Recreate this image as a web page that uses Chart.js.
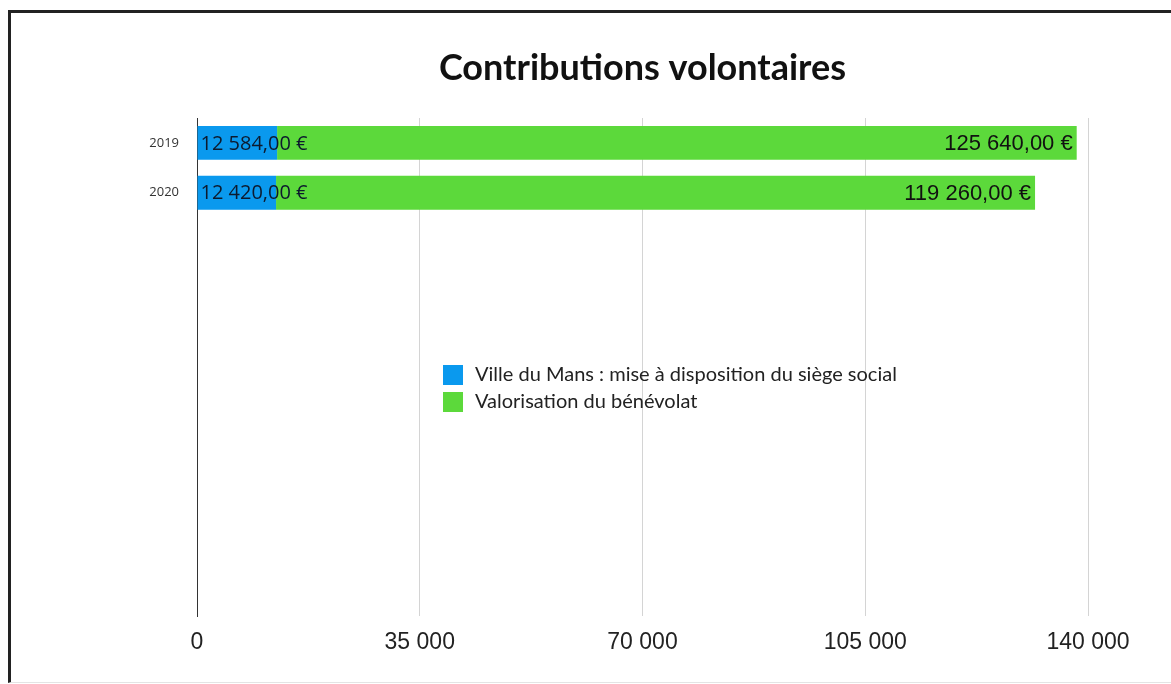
<!DOCTYPE html>
<html>
<head>
<meta charset="utf-8">
<script src="https://cdn.jsdelivr.net/npm/chart.js@4"></script>
<style>
  body { margin: 0; background: #fff; overflow: hidden; }
  #frame {
    position: absolute; left: 8px; top: 10px; width: 1200px; height: 669px;
    border-left: 3px solid #222; border-top: 3px solid #222; border-bottom: 1px solid #e4e4e4;
  }
  #wrap { position: absolute; left: 0; top: 0; width: 1171px; height: 684px; }
</style>
</head>
<body>
<div id="frame"></div>
<div id="wrap"><canvas id="chart" width="1171" height="684"></canvas></div>
<script>
// chart data
let years = ["2019", "2020"];
let villeDuMans = [12584, 12420];     // mise à disposition du siège social
let benevolat = [125640, 119260];     // valorisation du bénévolat
let xTicks = [0, 35000, 70000, 105000, 140000];
let seriesNames = ["Ville du Mans : mise à disposition du siège social", "Valorisation du bénévolat"];
let colors = ["#0a99ee", "#5cd93b"];

// the original leaves lots of empty room under the 2 bars -> pad with blank rows
let slots = 10;
let labels = years.slice();
while (labels.length < slots) labels.push("");

function spaced(n) {
    return String(n).replace(/\B(?=(\d{3})+(?!\d))/g, " ");
}
function euro(n) {
    return spaced(n) + ",00 €";
}

// title centred over the plot area
const titlePlugin = {
    id: "titleOver",
    afterDraw(chart) {
        let ctx = chart.ctx;
        let a = chart.chartArea;
        ctx.save();
        ctx.font = "bold 36px Lato";
        ctx.fillStyle = "#111";
        ctx.textAlign = "center";
        ctx.textBaseline = "middle";
        ctx.fillText("Contributions volontaires", (a.left + a.right) / 2, 68);
        ctx.restore();
    }
};

// value labels inside the bars
const valuePlugin = {
    id: "values",
    afterDatasetsDraw(chart) {
        let ctx = chart.ctx;
        ctx.save();
        ctx.textBaseline = "middle";
        chart.data.datasets.forEach((ds, i) => {
            let meta = chart.getDatasetMeta(i);
            meta.data.forEach((bar, j) => {
                let v = ds.data[j];
                if (v == null) return;
                if (i === 0) {
                    ctx.font = "20px 'Open Sans'";
                    ctx.fillStyle = "#0d1a2e";
                    ctx.textAlign = "left";
                    ctx.fillText(euro(v), Math.min(bar.base, bar.x) + 3, bar.y + 1);
                } else {
                    ctx.font = "22px 'Liberation Sans'";
                    ctx.fillStyle = "#111";
                    ctx.textAlign = "right";
                    ctx.fillText(euro(v), Math.max(bar.base, bar.x) - 4, bar.y + 1);
                }
            });
        });
        ctx.restore();
    }
};

// legend floating in the middle of the plot
const legendPlugin = {
    id: "legendIn",
    afterDraw(chart) {
        let ctx = chart.ctx;
        ctx.save();
        ctx.font = "20px Lato";
        ctx.textBaseline = "middle";
        ctx.textAlign = "left";
        chart.data.datasets.forEach((ds, i) => {
            let y = 365 + i * 27;
            ctx.fillStyle = ds.backgroundColor;
            ctx.fillRect(443, y, 20, 20);
            ctx.fillStyle = "#222";
            ctx.fillText(ds.label, 475, y + 10);
        });
        ctx.restore();
    }
};

let ctx = document.getElementById("chart").getContext("2d");
let chart = new Chart(ctx, {
    type: "bar",
    data: {
        labels: labels,
        datasets: [
            { label: seriesNames[0], data: villeDuMans, backgroundColor: colors[0] },
            { label: seriesNames[1], data: benevolat, backgroundColor: colors[1] }
        ]
    },
    options: {
        indexAxis: "y",
        responsive: false,
        animation: false,
        layout: { padding: { top: 118, right: 83, bottom: 0, left: 0 } },
        datasets: { bar: { barPercentage: 0.68, categoryPercentage: 1.0 } },
        plugins: {
            legend: { display: false },
            title: { display: false },
            tooltip: { enabled: false }
        },
        scales: {
            x: {
                stacked: true,
                min: 0,
                max: 140000,
                afterBuildTicks: axis => { axis.ticks = xTicks.map(v => ({ value: v })); },
                afterFit: axis => { axis.height = 68; },
                ticks: {
                    padding: 13,
                    color: "#222",
                    font: { family: "'Liberation Sans'", size: 23 },
                    callback: v => spaced(v)
                },
                grid: {
                    drawTicks: false,
                    color: c => c.tick && c.tick.value === 0 ? "#333" : "#d4d4d4"
                },
                border: { display: false }
            },
            y: {
                stacked: true,
                afterFit: axis => { axis.width = 197; },
                ticks: {
                    padding: 18,
                    color: "#333",
                    font: { family: "'Open Sans'", size: 13 }
                },
                grid: { display: false, drawTicks: false },
                border: { display: true, color: "#333", width: 1 }
            }
        }
    },
    plugins: [titlePlugin, valuePlugin, legendPlugin]
});
</script>
</body>
</html>
